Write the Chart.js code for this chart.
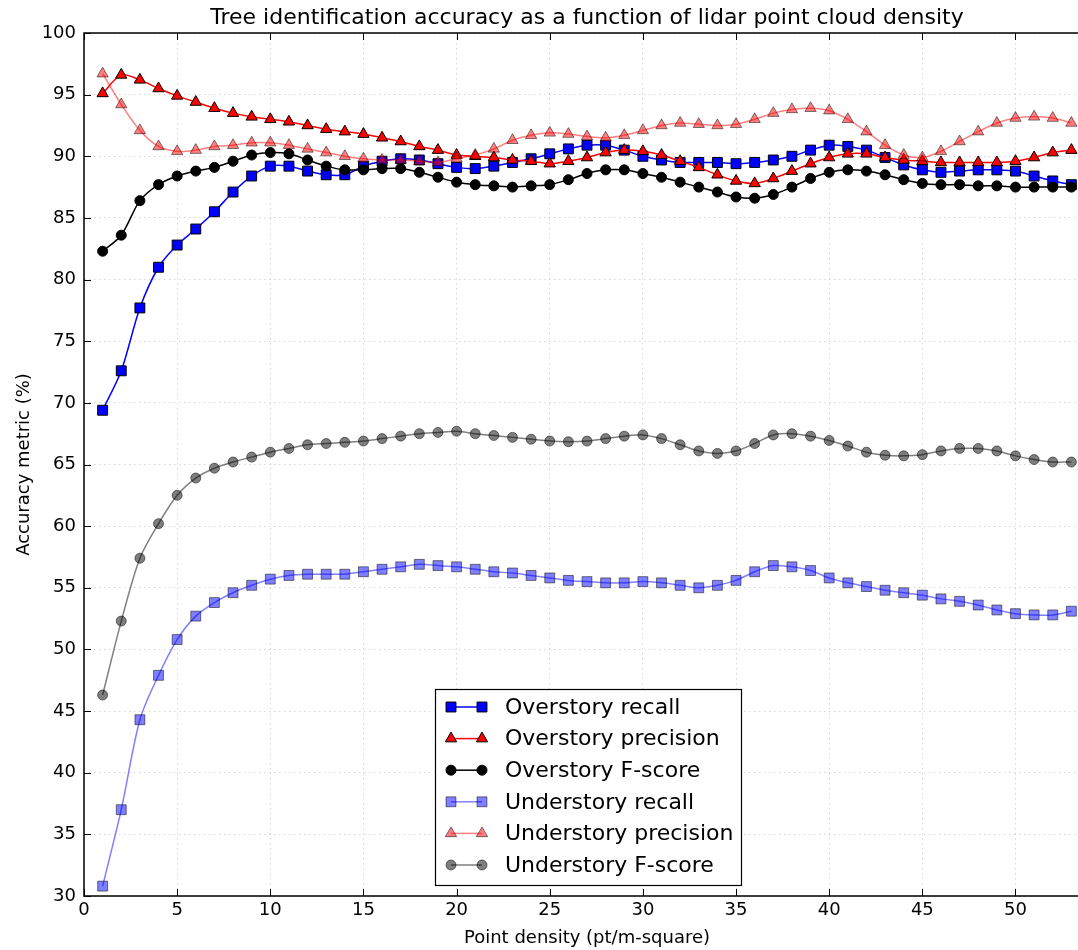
<!DOCTYPE html>
<html><head><meta charset="utf-8">
<script src="https://cdn.jsdelivr.net/npm/chart.js@4/dist/chart.umd.min.js"></script>
<style>
html,body{margin:0;padding:0;background:#fff;overflow:hidden;}
#wrap{width:1078px;height:950px;overflow:hidden;position:relative;background:#fff;}
canvas{display:block;}
</style></head><body>
<div id="wrap"><canvas id="c" width="1174" height="950"></canvas></div>
<script>
// ---- data ----
const density = [1,2,3,4,5,6,7,8,9,10,11,12,13,14,15,16,17,18,19,20,21,22,23,24,25,26,27,28,29,30,31,32,33,34,35,36,37,38,39,40,41,42,43,44,45,46,47,48,49,50,51,52,53];
const overRecall = [69.4,72.6,77.7,81.0,82.8,84.1,85.5,87.1,88.4,89.2,89.2,88.8,88.5,88.5,89.2,89.6,89.8,89.7,89.4,89.1,89.0,89.2,89.5,89.8,90.2,90.6,90.9,90.9,90.5,90.0,89.7,89.5,89.5,89.5,89.4,89.5,89.7,90.0,90.5,90.9,90.8,90.5,89.9,89.3,88.9,88.7,88.8,88.9,88.9,88.8,88.4,88.0,87.7];
const overPrecision = [95.1,96.6,96.2,95.5,94.9,94.4,93.9,93.5,93.2,93.0,92.8,92.5,92.2,92.0,91.8,91.5,91.2,90.8,90.5,90.1,90.0,89.9,89.7,89.6,89.4,89.6,89.9,90.3,90.5,90.4,90.1,89.6,89.1,88.5,88.0,87.8,88.2,88.8,89.4,89.9,90.2,90.2,89.9,89.7,89.6,89.5,89.5,89.5,89.5,89.6,89.9,90.3,90.5];
const overFscore = [82.3,83.6,86.4,87.7,88.4,88.8,89.1,89.6,90.1,90.3,90.2,89.7,89.2,88.9,88.9,89.0,89.0,88.7,88.3,87.9,87.7,87.6,87.5,87.6,87.7,88.1,88.6,88.9,88.9,88.6,88.3,87.9,87.5,87.1,86.7,86.6,86.9,87.5,88.2,88.7,88.9,88.8,88.5,88.1,87.8,87.7,87.7,87.6,87.6,87.5,87.5,87.5,87.5];
const underRecall = [30.8,37.0,44.3,47.9,50.8,52.7,53.8,54.6,55.2,55.7,56.0,56.1,56.1,56.1,56.3,56.5,56.7,56.9,56.8,56.7,56.5,56.3,56.2,56.0,55.8,55.6,55.5,55.4,55.4,55.5,55.4,55.2,55.0,55.2,55.6,56.3,56.8,56.7,56.4,55.8,55.4,55.1,54.8,54.6,54.4,54.1,53.9,53.6,53.2,52.9,52.8,52.8,53.1];
const underPrecision = [96.7,94.2,92.1,90.8,90.4,90.5,90.8,90.9,91.1,91.1,90.9,90.6,90.3,90.0,89.8,89.7,89.7,89.6,89.5,89.8,90.1,90.6,91.3,91.7,91.9,91.8,91.6,91.5,91.7,92.1,92.5,92.7,92.6,92.5,92.6,93.0,93.5,93.8,93.9,93.7,93.0,92.0,90.9,90.1,89.9,90.4,91.2,92.0,92.7,93.1,93.2,93.1,92.7];
const underFscore = [46.3,52.3,57.4,60.2,62.5,63.9,64.7,65.2,65.6,66.0,66.3,66.6,66.7,66.8,66.9,67.1,67.3,67.5,67.6,67.7,67.5,67.35,67.2,67.05,66.9,66.85,66.9,67.1,67.3,67.4,67.1,66.6,66.1,65.9,66.1,66.7,67.4,67.5,67.3,66.95,66.5,66.0,65.75,65.7,65.8,66.1,66.3,66.3,66.1,65.7,65.4,65.2,65.2];
const seriesNames = ['Overstory recall','Overstory precision','Overstory F-score','Understory recall','Understory precision','Understory F-score'];
const xTickValues = [0,5,10,15,20,25,30,35,40,45,50];
const yTickValues = [30,35,40,45,50,55,60,65,70,75,80,85,90,95,100];

const FONT = "'DejaVu Sans', 'Liberation Sans', sans-serif";
Chart.defaults.font.family = FONT;
Chart.defaults.color = '#000';

const styles = [
  {color:'rgb(0,0,255)', edge:'rgb(0,0,0)', pt:'rect', r:7},
  {color:'rgb(255,0,0)', edge:'rgb(0,0,0)', pt:'triangle', r:6.5},
  {color:'rgb(0,0,0)', edge:'rgb(0,0,0)', pt:'circle', r:5},
  {color:'rgba(0,0,255,0.5)', edge:'rgba(0,0,0,0.5)', pt:'rect', r:7},
  {color:'rgba(255,0,0,0.5)', edge:'rgba(0,0,0,0.5)', pt:'triangle', r:6.5},
  {color:'rgba(0,0,0,0.5)', edge:'rgba(0,0,0,0.5)', pt:'circle', r:5}
];
const allSeries = [overRecall, overPrecision, overFscore, underRecall, underPrecision, underFscore];

const datasets = allSeries.map((vals, i) => ({
  label: seriesNames[i],
  data: density.map((d, j) => ({x: d, y: vals[j]})),
  borderColor: styles[i].color,
  backgroundColor: styles[i].color,
  borderWidth: 1.5,
  pointStyle: styles[i].pt,
  pointRadius: styles[i].r,
  pointBackgroundColor: styles[i].color,
  pointBorderColor: styles[i].edge,
  pointBorderWidth: 1,
  tension: 0.3,
  order: 6 - i,
  yAxisID: 'y'
}));

function drawMarker(ctx, style, x, y, r) {
  ctx.beginPath();
  if (style === 'rect') {
    const s = Math.SQRT1_2 * r;
    ctx.rect(x - s, y - s, 2*s, 2*s);
  } else if (style === 'triangle') {
    let a = 0;
    ctx.moveTo(x + Math.sin(a)*r, y - Math.cos(a)*r);
    a += 2*Math.PI/3; ctx.lineTo(x + Math.sin(a)*r, y - Math.cos(a)*r);
    a += 2*Math.PI/3; ctx.lineTo(x + Math.sin(a)*r, y - Math.cos(a)*r);
    ctx.closePath();
  } else {
    ctx.arc(x, y, r, 0, 2*Math.PI);
  }
  ctx.fill(); ctx.stroke();
}

const framePlugin = {
  id: 'frame',
  afterDraw(chart) {
    const {ctx, chartArea: a, scales: {x, y}} = chart;
    ctx.save();
    ctx.strokeStyle = '#000';
    ctx.lineWidth = 1.5;
    ctx.strokeRect(a.left, a.top, a.right - a.left, a.bottom - a.top);
    const L = 7;
    ctx.lineWidth = 1;
    ctx.beginPath();
    xTickValues.forEach(v => {
      const px = Math.round(x.getPixelForValue(v)) + 0.5;
      ctx.moveTo(px, a.bottom); ctx.lineTo(px, a.bottom - L);
      ctx.moveTo(px, a.top); ctx.lineTo(px, a.top + L);
    });
    yTickValues.forEach(v => {
      const py = Math.round(y.getPixelForValue(v)) + 0.5;
      ctx.moveTo(a.left, py); ctx.lineTo(a.left + L, py);
      ctx.moveTo(a.right, py); ctx.lineTo(a.right - L, py);
    });
    ctx.stroke();

    // legend
    const bx = a.left + 351, by = a.top + 656, bw = 306, bh = 196;
    ctx.fillStyle = '#fff';
    ctx.fillRect(bx, by, bw, bh);
    ctx.strokeStyle = '#000';
    ctx.lineWidth = 1.2;
    ctx.strokeRect(bx + 0.5, by + 0.5, bw, bh);
    ctx.font = "22px " + FONT;
    ctx.textBaseline = 'middle';
    ctx.textAlign = 'left';
    seriesNames.forEach((name, i) => {
      const ry = by + 18 + i * 31.6;
      const st = styles[i];
      ctx.strokeStyle = st.color; ctx.lineWidth = 1.5;
      ctx.beginPath(); ctx.moveTo(bx + 16, ry); ctx.lineTo(bx + 47, ry); ctx.stroke();
      ctx.fillStyle = st.color; ctx.strokeStyle = st.edge; ctx.lineWidth = 1;
      drawMarker(ctx, st.pt, bx + 16, ry, st.r);
      drawMarker(ctx, st.pt, bx + 47, ry, st.r);
      ctx.fillStyle = '#000';
      ctx.fillText(name, bx + 70, ry + 1);
    });
    ctx.restore();
  }
};

const gridStyle = { color: 'rgba(0,0,0,0.16)', lineWidth: 1, drawTicks: false };
const borderStyle = { display: false, dash: [1.5, 3.5] };

new Chart(document.getElementById('c'), {
  type: 'line',
  data: { datasets },
  options: {
    responsive: false,
    animation: false,
    devicePixelRatio: 1,
    layout: { padding: 0 },
    plugins: {
      legend: { display: false },
      tooltip: { enabled: false },
      title: {
        display: true,
        text: 'Tree identification accuracy as a function of lidar point cloud density',
        font: { size: 22, weight: 'normal', family: FONT },
        color: '#000',
        padding: { top: 5.5, bottom: 1.1 }
      }
    },
    scales: {
      x: {
        type: 'linear', min: 0, max: 54,
        afterFit: s => { s.height = 54; },
        afterBuildTicks: s => { s.ticks = xTickValues.map(v => ({value: v})); },
        ticks: { stepSize: 5, includeBounds: false, padding: 4, font: { size: 18 }, color: '#000', maxRotation: 0, autoSkip: false },
        grid: gridStyle,
        border: borderStyle,
        title: { display: true, text: 'Point density (pt/m-square)', font: { size: 18 }, color: '#000', padding: { top: 0, bottom: 1.2 } }
      },
      y: {
        type: 'linear', position: 'left', min: 30, max: 100,
        afterFit: s => { s.width = 84; },
        afterBuildTicks: s => { s.ticks = yTickValues.map(v => ({value: v})); },
        ticks: { stepSize: 5, padding: 8, font: { size: 18 }, color: '#000', autoSkip: false },
        grid: gridStyle,
        border: borderStyle,
        title: { display: true, text: 'Accuracy metric (%)', font: { size: 18 }, color: '#000', padding: { top: 13.2, bottom: 0 } }
      },
      yRight: {
        type: 'linear', position: 'right', min: 30, max: 100,
        afterFit: s => { s.width = 84; },
        ticks: { display: false },
        grid: { display: false, drawTicks: false },
        border: { display: false }
      }
    }
  },
  plugins: [framePlugin]
});
</script>
</body></html>
